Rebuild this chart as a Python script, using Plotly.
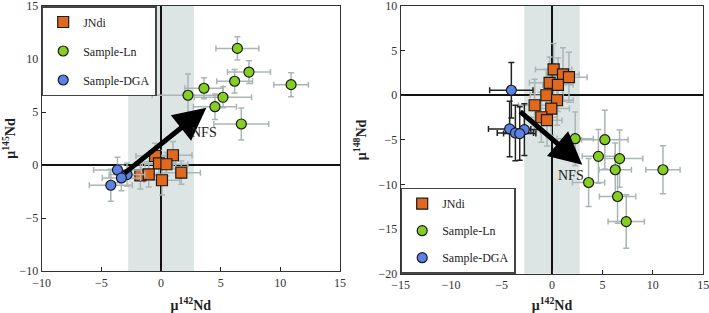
import plotly.graph_objects as go

# ---------------- Data: left panel (mu142Nd vs mu145Nd) ----------------
jndi_L_x = [-0.5, 1.0, -0.17, 0.45, 1.7, -1.73, -1.03, 0.08]
jndi_L_y = [0.85, 0.92, 0.16, 0.07, -0.72, -0.97, -0.88, -1.44]
jndi_L_xe = [1.6, 1.6, 1.4, 1.8, 1.6, 1.4, 1.5, 1.5]
jndi_L_ye = [1.2, 1.3, 1.2, 1.1, 1.1, 1.3, 1.2, 1.4]

ln_L_x = [6.4, 7.37, 6.17, 10.9, 3.6, 2.26, 5.19, 4.52, 6.73]
ln_L_y = [11.0, 8.77, 7.9, 7.58, 7.24, 6.58, 6.39, 5.5, 3.87]
ln_L_xe = [1.8, 1.8, 1.5, 1.45, 1.6, 3.0, 2.4, 1.8, 2.3]
ln_L_ye = [1.1, 1.07, 1.1, 1.13, 1.0, 2.0, 1.0, 1.2, 1.5]

dga_L_x = [-3.65, -2.85, -3.32, -4.21]
dga_L_y = [-0.47, -0.9, -1.22, -1.91]
dga_L_xe = [2.0, 1.5, 1.6, 1.8]
dga_L_ye = [1.2, 1.1, 1.2, 1.5]

# ---------------- Data: right panel (mu142Nd vs mu148Nd) ----------------
jndi_R_x = [0.16, 1.09, 1.68, -0.24, 0.59, -0.56, 0.5, -1.72, -0.07, -1.06, -0.5]
jndi_R_y = [2.89, 2.33, 2.02, 1.39, 1.17, 0.0, -0.56, -1.12, -1.5, -2.47, -2.8]
jndi_R_xe = [1.8, 1.6, 1.8, 2.0, 1.5, 1.6, 1.6, 1.6, 1.8, 1.6, 1.5]
jndi_R_ye = [2.9, 3.0, 2.8, 2.9, 3.0, 2.9, 2.8, 2.9, 3.0, 2.8, 2.9]

ln_R_x = [2.3, 5.24, 4.6, 6.7, 6.27, 11.0, 3.63, 6.5, 7.36]
ln_R_y = [-4.87, -4.98, -6.85, -7.1, -8.35, -8.35, -9.78, -11.35, -14.16]
ln_R_xe = [1.8, 2.3, 1.6, 2.3, 1.6, 1.7, 1.6, 1.8, 1.8]
ln_R_ye = [3.0, 3.3, 3.0, 3.2, 3.0, 2.7, 2.7, 3.0, 3.0]

dga_R_x = [-4.03, -4.2, -2.74, -3.63, -3.2]
dga_R_y = [0.56, -3.78, -3.85, -4.23, -4.3]
dga_R_xe = [2.15, 2.1, 1.6, 1.8, 1.6]
dga_R_ye = [3.1, 3.1, 2.9, 3.1, 3.0]

# NFS arrows (tail -> head) and label positions
nfs_L = dict(tail=(-3.18, -0.88), head=(3.8, 5.4), label=(3.6, 3.1))
nfs_R = dict(tail=(-3.3, -1.7), head=(3.0, -7.8), label=(1.9, -9.0))

band_half = 2.75
names = ["JNdi", "Sample-Ln", "Sample-DGA"]

ORANGE = "#e0691e"
GREEN = "#85cf23"
BLUE = "#5b80e6"
ERR = "#aab5b5"
SERIF = "Liberation Serif, Times New Roman, serif"

fig = go.Figure()


def add(x, y, xe, ye, name, color, symbol, xa, ya, legend, errc):
    fig.add_trace(go.Scatter(
        x=x, y=y, mode="markers", name=name,
        marker=dict(color=color, symbol=symbol, size=11 if symbol == "square" else 10,
                    line=dict(color="#1a1a1a", width=1.2)),
        error_x=dict(type="data", array=xe, color=errc, thickness=1.5, width=3),
        error_y=dict(type="data", array=ye, color=errc, thickness=1.5, width=3),
        xaxis=xa, yaxis=ya, legend=legend, legendgroup=legend + name,
        showlegend=True,
    ))


add(jndi_L_x, jndi_L_y, jndi_L_xe, jndi_L_ye, names[0], ORANGE, "square", "x", "y", "legend", ERR)
add(ln_L_x, ln_L_y, ln_L_xe, ln_L_ye, names[1], GREEN, "circle", "x", "y", "legend", ERR)
add(dga_L_x, dga_L_y, dga_L_xe, dga_L_ye, names[2], BLUE, "circle", "x", "y", "legend", ERR)

add(jndi_R_x, jndi_R_y, jndi_R_xe, jndi_R_ye, names[0], ORANGE, "square", "x2", "y2", "legend2", ERR)
add(ln_R_x, ln_R_y, ln_R_xe, ln_R_ye, names[1], GREEN, "circle", "x2", "y2", "legend2", ERR)
add(dga_R_x, dga_R_y, dga_R_xe, dga_R_ye, names[2], BLUE, "circle", "x2", "y2", "legend2", "#222222")

W, H = 709, 313


def px(v):
    return v / W


def py(v):
    return 1 - v / H


axis_common = dict(
    showgrid=False, zeroline=True, zerolinecolor="#111", zerolinewidth=1.5,
    showline=True, mirror=True, linecolor="#333", linewidth=1.2,
    ticks="inside", ticklen=4, tickcolor="#222", dtick=5,
    tickfont=dict(family=SERIF, size=12, color="#333"),
    ticklabeloverflow="allow", automargin=False,
)
title_font = dict(family=SERIF, size=14, color="#222")
leg_common = dict(bgcolor="white", bordercolor="#444", borderwidth=1.5,
                  font=dict(family=SERIF, size=12, color="#222"),
                  traceorder="grouped", itemsizing="trace", itemwidth=30)

fig.update_layout(
    width=W, height=H, margin=dict(l=0, r=0, t=0, b=0),
    plot_bgcolor="white", paper_bgcolor="white",
    xaxis=dict(domain=[px(41.7), px(340)], range=[-10, 15], anchor="y",
               title=dict(text="<b>μ<sup>142</sup>Nd</b>", font=title_font, standoff=14), **axis_common),
    yaxis=dict(domain=[py(271), py(6)], range=[-10, 15], anchor="x",
               title=dict(text="<b>μ<sup>145</sup>Nd</b>", font=title_font, standoff=12), **axis_common),
    xaxis2=dict(domain=[px(400.7), px(703.3)], range=[-15, 15], anchor="y2",
                title=dict(text="<b>μ<sup>142</sup>Nd</b>", font=title_font, standoff=12), **axis_common),
    yaxis2=dict(domain=[py(273.7), py(6)], range=[-20, 10], anchor="x2",
                title=dict(text="<b>μ<sup>148</sup>Nd</b>", font=title_font, standoff=8), **axis_common),
    legend=dict(x=px(41.7), y=py(6), xanchor="left", yanchor="top",
                tracegroupgap=10, **leg_common),
    legend2=dict(x=px(400.7), y=py(273.7), xanchor="left", yanchor="bottom",
                 tracegroupgap=8, **leg_common),
    showlegend=True,
)

# grey band |x| < band_half
for xr, yr in [("x", "y domain"), ("x2", "y2 domain")]:
    fig.add_shape(type="rect", xref=xr, yref=yr, x0=-band_half, x1=band_half, y0=0, y1=1,
                  fillcolor="#dce4e4", line=dict(width=0), layer="below")

# NFS arrows + labels
for d, xr, yr in [(nfs_L, "x", "y"), (nfs_R, "x2", "y2")]:
    fig.add_annotation(x=d["head"][0], y=d["head"][1], ax=d["tail"][0], ay=d["tail"][1],
                       xref=xr, yref=yr, axref=xr, ayref=yr, text="", showarrow=True,
                       arrowhead=2, arrowsize=1.3, arrowwidth=5, arrowcolor="#000")
    fig.add_annotation(x=d["label"][0], y=d["label"][1], xref=xr, yref=yr, text="NFS",
                       showarrow=False, font=dict(family=SERIF, size=14, color="#222"))

# remove the browser's default 8px body margin so the figure sits at the page origin
fig.write_html("out.html", config={"displayModeBar": False},
               post_script="document.body.style.margin='0';")
